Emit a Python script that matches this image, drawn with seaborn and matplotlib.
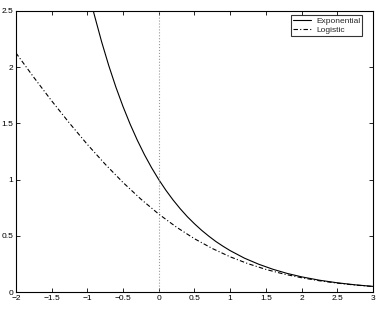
import pandas as pd
import seaborn as sns
import matplotlib
matplotlib.use("Agg")
import matplotlib.pyplot as plt

# values
exp_x = [-0.92, -0.9, -0.8, -0.7, -0.6, -0.5, -0.4, -0.3, -0.2, -0.1, 0.0,
         0.1, 0.2, 0.3, 0.4, 0.5, 0.6, 0.7, 0.8, 0.9, 1.0, 1.2, 1.4, 1.6,
         1.8, 2.0, 2.25, 2.5, 2.75, 3.0]
exp_y = [2.509, 2.460, 2.226, 2.014, 1.822, 1.649, 1.492, 1.350, 1.221, 1.105, 1.000,
         0.905, 0.819, 0.741, 0.670, 0.607, 0.549, 0.497, 0.449, 0.407, 0.368, 0.301,
         0.247, 0.202, 0.165, 0.135, 0.105, 0.082, 0.064, 0.050]

log_x = [-2.0, -1.75, -1.5, -1.25, -1.0, -0.75, -0.5, -0.25, 0.0, 0.25, 0.5,
         0.75, 1.0, 1.25, 1.5, 1.75, 2.0, 2.25, 2.5, 2.75, 3.0]
log_y = [2.127, 1.910, 1.701, 1.502, 1.313, 1.137, 0.974, 0.826, 0.693, 0.576, 0.474,
         0.387, 0.313, 0.252, 0.201, 0.160, 0.127, 0.100, 0.079, 0.062, 0.049]

xticks = [-2, -1.5, -1, -0.5, 0, 0.5, 1, 1.5, 2, 2.5, 3]
yticks = [0, 0.5, 1, 1.5, 2, 2.5]

df_exp = pd.DataFrame({"x": exp_x, "y": exp_y})
df_log = pd.DataFrame({"x": log_x, "y": log_y})

sns.set_style("ticks")
plt.rcParams["font.family"] = ["Liberation Sans", "DejaVu Sans"]

fig = plt.figure(figsize=(3.78, 3.12), dpi=100)
ax = fig.add_axes([0.042, 0.064, 0.945, 0.901])

sns.lineplot(data=df_exp, x="x", y="y", ax=ax, color="black", lw=0.8,
             label="Exponential", sort=False)
sns.lineplot(data=df_log, x="x", y="y", ax=ax, color="black", lw=0.8,
             linestyle=(0, (4, 2, 1, 2)), label="Logistic", sort=False)
ax.axvline(0, color="#999999", lw=0.8, linestyle=":")

ax.set_xlim(-2, 3)
ax.set_ylim(0, 2.5)
ax.set_xticks(xticks)
ax.set_xticklabels(["\u22122", "\u22121.5", "\u22121", "\u22120.5", "0", "0.5", "1",
                    "1.5", "2", "2.5", "3"])
ax.set_yticks(yticks)
ax.set_yticklabels(["0", "0.5", "1", "1.5", "2", "2.5"])
ax.set_xlabel("")
ax.set_ylabel("")
ax.tick_params(direction="in", top=True, right=True, labelsize=6, length=3,
               width=0.6, pad=2, colors="black")
for s in ax.spines.values():
    s.set_linewidth(0.8)
    s.set_color("black")

leg = ax.legend(loc="upper right", bbox_to_anchor=(0.97, 0.985), fontsize=6,
                frameon=True, fancybox=False, edgecolor="black", borderaxespad=0,
                handlelength=2.2, handletextpad=0.6, borderpad=0.25,
                labelspacing=0.15)
leg.get_frame().set_linewidth(0.8)

fig.savefig("out.png", dpi=100)
